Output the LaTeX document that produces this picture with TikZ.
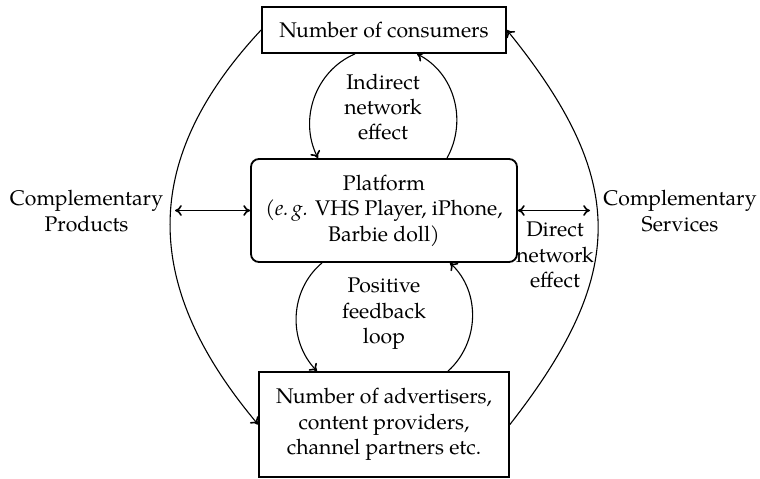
\documentclass[tikz,border=0pt]{standalone}
\usepackage{fontspec}
\setmainfont{TeX Gyre Pagella}
\usetikzlibrary{arrows.meta,calc}
\begin{document}
\begin{tikzpicture}[x=0.5pt,y=0.5pt,
  font=\fontsize{10.6}{12.7}\selectfont,
  tip/.tip={To[length=3.4pt,width=5.4pt,line width=0.8pt]},
  box/.style={draw,line width=0.9pt,inner sep=0pt,align=center},
  conn/.style={line width=0.55pt,-tip},
  dconn/.style={line width=0.55pt,tip-tip},
  lbl/.style={align=center,inner sep=0pt}]
\useasboundingbox (0,0) rectangle (760,478);
\node[box,minimum width=122pt,minimum height=23pt] (top) at (384,448) {Number of consumers};
\node[box,rounded corners=4pt,minimum width=133pt,minimum height=51.5pt] (plat) at (384,267.5) {Platform\\(\textit{e.\,g.} VHS Player, iPhone,\\Barbie doll)};
\node[box,minimum width=125pt,minimum height=52.5pt] (bot) at (384,53.5) {Number of advertisers,\\content providers,\\channel partners etc.};
\node[lbl] (ind) at (383,371) {Indirect\\network\\effect};
\node[lbl] (pos) at (384,164) {Positive\\feedback\\loop};
\node[lbl] (cp) at (86.5,267) {Complementary\\Products};
\node[lbl] (cs) at (680,267) {Complementary\\Services};
\node[lbl] (dne) at (555,223) {Direct\\network\\effect};
\coordinate (lp) at (175,267.5);
\coordinate (rp) at (590,267.5);
\draw[dconn] (lp) -- (plat.west);
\draw[dconn] (plat.east) -- (rp);
\draw[conn] (top.west) .. controls +(227:180) and +(130:180) .. (bot.west);
\draw[conn] (bot.east) .. controls +(52:192) and +(309:192) .. (top.east);
\draw[conn] ($(top.south)+(-29,0)$) to[out=203,in=117] ($(plat.north)+(-66,0)$);
\draw[conn] ($(plat.north)+(63,0)$) to[out=61,in=333] ($(top.south)+(33,0)$);
\draw[conn] ($(plat.south)+(-62,0)$) to[out=220,in=134] ($(bot.north)+(-67,0)$);
\draw[conn] ($(bot.north)+(64,0)$) to[out=42,in=317] ($(plat.south)+(66,0)$);
\end{tikzpicture}
\end{document}
